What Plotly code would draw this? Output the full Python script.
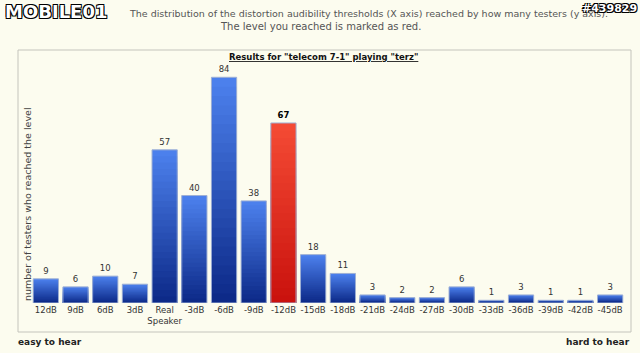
import plotly.graph_objects as go

categories = ["12dB", "9dB", "6dB", "3dB", "Real<br>Speaker", "-3dB", "-6dB", "-9dB",
              "-12dB", "-15dB", "-18dB", "-21dB", "-24dB", "-27dB", "-30dB", "-33dB",
              "-36dB", "-39dB", "-42dB", "-45dB"]
testers = [9, 6, 10, 7, 57, 40, 84, 38, 67, 18, 11, 3, 2, 2, 6, 1, 3, 1, 1, 3]
marked_level = "-12dB"

title_text = 'Results for "telecom 7-1" playing "terz"'
header_line1 = "The distribution of the distortion audibility thresholds (X axis) reached by how many testers (y axis)."
header_line2 = "The level you reached is marked as red."
y_title = "number of testers who reached the level"

# --- layout geometry (pixels) ---
W, H = 640, 353
ML, MR, MT, MB = 31, 15, 65, 50
PW, PH = W - ML - MR, H - MT - MB
def px_x(x):
    return (x - ML) / PW
def px_y(y):
    return (H - MB - y) / PH

# gradient colours (bottom -> top)
blue_bot, blue_top = (10, 38, 132), (76, 128, 236)
red_bot, red_top = (200, 16, 12), (244, 74, 52)
def mix(a, b, t):
    return "rgb(%d,%d,%d)" % tuple(round(a[i] + (b[i] - a[i]) * t) for i in range(3))

N = 24
fig = go.Figure()
# layered bars: each layer starts at 0, later (shorter) layers are darker -> vertical gradient
for k in range(N):
    t = 1 - k / N
    cols = [mix(red_bot, red_top, t) if c == marked_level else mix(blue_bot, blue_top, t)
            for c in categories]
    fig.add_trace(go.Bar(
        x=categories, y=[v * (N - k) / N for v in testers],
        marker=dict(color=cols, line=dict(width=0)), hoverinfo="skip", showlegend=False))

labels = ["<b>%d</b>" % v if c == marked_level else str(v) for c, v in zip(categories, testers)]
label_cols = ["#000000" if c == marked_level else "#333333" for c in categories]
fig.add_trace(go.Bar(
    x=categories, y=testers, text=labels, textposition="outside",
    textfont=dict(family="DejaVu Sans", size=8.5, color=label_cols),
    cliponaxis=False,
    marker=dict(color="rgba(0,0,0,0)", line=dict(color="#9fb0d4", width=1)),
    showlegend=False))

fig.update_layout(
    width=W, height=H, barmode="overlay", bargap=0.15,
    margin=dict(l=ML, r=MR, t=MT, b=MB),
    paper_bgcolor="#fcfcef", plot_bgcolor="#fcfcef",
    font=dict(family="DejaVu Sans", color="#333333"),
    xaxis=dict(showgrid=False, zeroline=False, showline=False, ticks="",
               tickfont=dict(family="DejaVu Sans", size=8.5, color="#333333"),
               fixedrange=True),
    yaxis=dict(range=[0, PH / 2.687], showgrid=False, zeroline=False, showline=False,
               showticklabels=False, ticks="", fixedrange=True),
    shapes=[dict(type="rect", xref="paper", yref="paper",
                 x0=px_x(18), x1=px_x(631), y0=px_y(332), y1=px_y(50),
                 line=dict(color="#c4c4bc", width=1), fillcolor="rgba(0,0,0,0)", layer="below")],
    annotations=[
        dict(text=header_line1, xref="paper", yref="paper", x=px_x(368), y=px_y(13),
             xanchor="center", yanchor="middle", showarrow=False,
             font=dict(family="DejaVu Sans", size=9.5, color="#555555")),
        dict(text=header_line2, xref="paper", yref="paper", x=px_x(320), y=px_y(27),
             xanchor="center", yanchor="middle", showarrow=False,
             font=dict(family="DejaVu Sans", size=10, color="#555555")),
        dict(text="<b>MOBILE01</b>", xref="paper", yref="paper", x=px_x(3), y=px_y(12),
             xanchor="left", yanchor="middle", showarrow=False,
             font=dict(family="DejaVu Sans", size=18, color="#ffffff",
                       shadow="1px 1px 0 #000, -1px -1px 0 #000, 1px -1px 0 #000, -1px 1px 0 #000")),
        dict(text="<b>#439829</b>", xref="paper", yref="paper", x=px_x(639), y=px_y(9),
             xanchor="right", yanchor="middle", showarrow=False,
             font=dict(family="DejaVu Sans", size=11, color="#ffffff",
                       shadow="1px 1px 0 #000, -1px -1px 0 #000, 1px -1px 0 #000, -1px 1px 0 #000")),
        dict(text="<b>" + title_text + "</b>", xref="paper", yref="paper", x=px_x(323), y=px_y(57),
             xanchor="center", yanchor="middle", showarrow=False,
             font=dict(family="DejaVu Sans", size=8.5, color="#111111", lineposition="under")),
        dict(text=y_title, xref="paper", yref="y", x=px_x(27), y=0,
             xanchor="center", yanchor="bottom", textangle=-90, showarrow=False,
             font=dict(family="DejaVu Sans", size=9.5, color="#444444")),
        dict(text="<b>easy to hear</b>", xref="paper", yref="paper", x=px_x(16), y=px_y(342),
             xanchor="left", yanchor="middle", showarrow=False,
             font=dict(family="DejaVu Sans", size=9, color="#222222")),
        dict(text="<b>hard to hear</b>", xref="paper", yref="paper", x=px_x(632), y=px_y(342),
             xanchor="right", yanchor="middle", showarrow=False,
             font=dict(family="DejaVu Sans", size=9, color="#222222")),
    ],
)

fig.write_html("out.html", config={"displayModeBar": False})
